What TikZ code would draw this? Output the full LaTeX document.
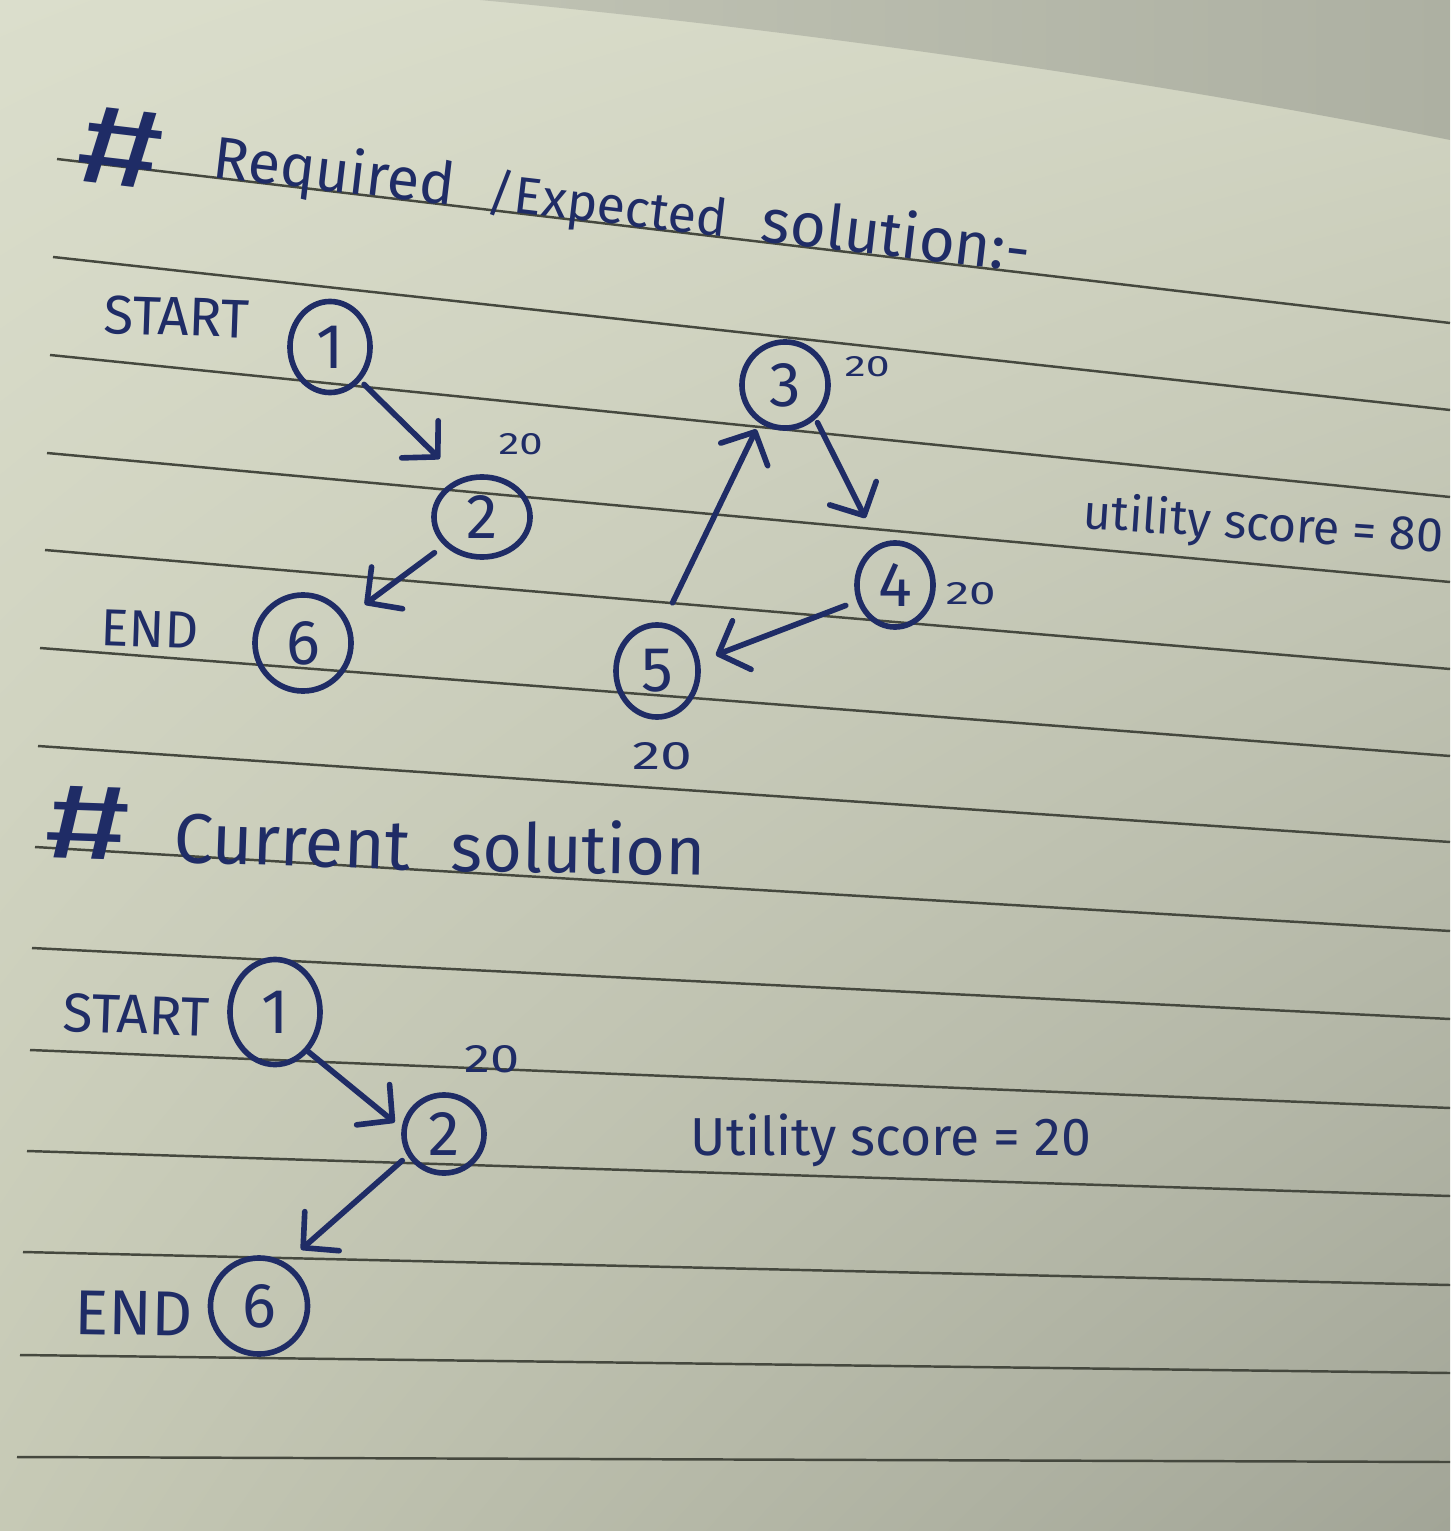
\documentclass[tikz,border=0pt]{standalone}
\usepackage{fontspec}
\usepackage{graphicx}
\newfontfamily\hand{Fira Sans}
\usetikzlibrary{arrows.meta,shapes.geometric,shadings}

\definecolor{ink}{HTML}{1F2C66}
\definecolor{rulecol}{HTML}{45483E}
\definecolor{paperUL}{HTML}{DBDECC}
\definecolor{paperUR}{HTML}{D3D6C3}
\definecolor{paperLL}{HTML}{C6C9B5}
\definecolor{paperLR}{HTML}{A2A597}
\definecolor{deskL}{HTML}{BFC2B3}
\definecolor{deskR}{HTML}{ADB0A2}

% handwritten-looking word, scaled to a given width (or to a given width and height)
\newcommand{\hw}[2]{\resizebox{#1}{!}{\hand #2}}
\newcommand{\hwh}[3]{\resizebox{#1}{#2}{\hand #3}}

\begin{document}
\begin{tikzpicture}[x=0.01cm,y=-0.01cm,
  vertex/.style={ellipse, draw=ink, line width=1.6pt, inner sep=0pt,
    text=ink, font=\hand\fontsize{18pt}{18pt}\selectfont},
  edge/.style={draw=ink, line width=1.6pt, line cap=round,
    -{Straight Barb[length=0.25cm,width=0.52cm,round]}},
  lbl/.style={text=ink, inner sep=0pt, anchor=base west},
  ruling/.style={draw=rulecol, line width=0.7pt}]

\useasboundingbox (0,0) rectangle (1450,1531);

% paper and the desk showing above its edge
\shade[upper left=paperUL, upper right=paperUR, lower left=paperLL, lower right=paperLR]
  (0,0) rectangle (1450,1531);
\shade[left color=deskL, right color=deskR]
  (480,0) .. controls (800,30) and (1150,80) .. (1450,140) -- (1450,0) -- cycle;

% ruled lines of the notebook
\foreach \la/\ra in {
   {(57,159)}/{(1450,323)}, {(53,257)}/{(1450,410)}, {(50,355)}/{(1450,497)},
   {(47,453)}/{(1450,582)}, {(45,550)}/{(1450,669)}, {(40,648)}/{(1450,756)},
   {(38,746)}/{(1450,842)}, {(35,847)}/{(1450,931)}, {(32,948)}/{(1450,1019)},
   {(30,1050)}/{(1450,1108)}, {(27,1151)}/{(1450,1196)}, {(23,1252)}/{(1450,1285)},
   {(20,1355)}/{(1450,1373)}, {(17,1457)}/{(1450,1462)}}
  \draw[ruling] \la -- \ra;

% heading of the first part
\node[lbl, rotate=-6.7] (hashA) at (74,180) {\hwh{0.84cm}{0.76cm}{\#}};
\node[lbl, rotate=-6.7] (wRequired) at (211,177) {\hw{2.42cm}{Required}};
\node[lbl, rotate=-6.7] (wExpected) at (485,209) {\hw{2.41cm}{/Expected}};
\node[lbl, rotate=-6.7] (wSolutionA) at (759,241) {\hw{2.70cm}{solution:-}};

% expected route
\node[vertex, minimum width=0.80cm, minimum height=0.91cm] (a1) at (330,347) {1};
\node[vertex, minimum width=0.96cm, minimum height=0.80cm] (a2) at (482,517) {2};
\node[vertex, minimum width=0.86cm, minimum height=0.86cm] (a3) at (785,385) {3};
\node[vertex, minimum width=0.76cm, minimum height=0.84cm] (a4) at (895,585) {4};
\node[vertex, minimum width=0.82cm, minimum height=0.92cm] (a5) at (657,671) {5};
\node[vertex, minimum width=0.96cm, minimum height=0.96cm] (a6) at (303,643) {6};

\node[lbl, rotate=-2] (startA) at (103,333) {\hw{1.45cm}{START}};
\node[lbl, rotate=-2] (endA) at (100,645) {\hw{0.97cm}{END}};

\node[lbl] (wa2) at (498,455) {\hwh{0.44cm}{0.21cm}{20}};
\node[lbl] (wa3) at (844,377) {\hwh{0.45cm}{0.20cm}{20}};
\node[lbl] (wa4) at (945,604) {\hwh{0.50cm}{0.22cm}{20}};
\node[lbl] (wa5) at (632,769) {\hwh{0.60cm}{0.27cm}{20}};

\draw[edge, shorten <=0.05cm, shorten >=0.28cm] (a1.312) -- (a2.120.5);
\draw[edge, shorten <=0.12cm, shorten >=0.22cm] (a2.217) -- (a6.30);
\draw[edge, shorten <=0.22cm, shorten >=0.07cm] (a5.83) -- (a3.236);
\draw[edge, shorten <=0.04cm, shorten >=0.29cm] (a3.312) -- (a4.112);
\draw[edge, shorten <=0.12cm, shorten >=0.17cm] (a4.203.5) -- (a5.13.8);

\node[lbl, rotate=-3.9] (utilA) at (1082,528) {\hw{3.6cm}{utility score = 80}};

% heading of the second part
\node[lbl, rotate=-2] (hashB) at (44,857) {\hwh{0.84cm}{0.72cm}{\#}};
\node[lbl, rotate=-2] (wCurrent) at (173,862) {\hw{2.36cm}{Current}};
\node[lbl, rotate=-1] (wSolutionB) at (450,871) {\hw{2.54cm}{solution}};

% current route
\node[vertex, minimum width=0.90cm, minimum height=1.05cm] (b1) at (275,1012) {1};
\node[vertex, minimum width=0.80cm, minimum height=0.78cm] (b2) at (444,1134) {2};
\node[vertex, minimum width=0.97cm, minimum height=0.96cm] (b6) at (259,1306) {6};

\node[lbl, rotate=-2] (startB) at (62,1031) {\hw{1.46cm}{START}};
\node[lbl, rotate=-1] (endB) at (74,1334) {\hw{1.18cm}{END}};
\node[lbl] (wb2) at (464,1072) {\hwh{0.55cm}{0.27cm}{20}};

\draw[edge, shorten >=0.09cm] (b1.310) -- (b2.172);
\draw[edge, shorten <=0.07cm, shorten >=0.20cm] (b2.211) -- (b6.58);

\node[lbl] (utilB) at (690,1155) {\hw{4.0cm}{Utility score = 20}};

\end{tikzpicture}
\end{document}
